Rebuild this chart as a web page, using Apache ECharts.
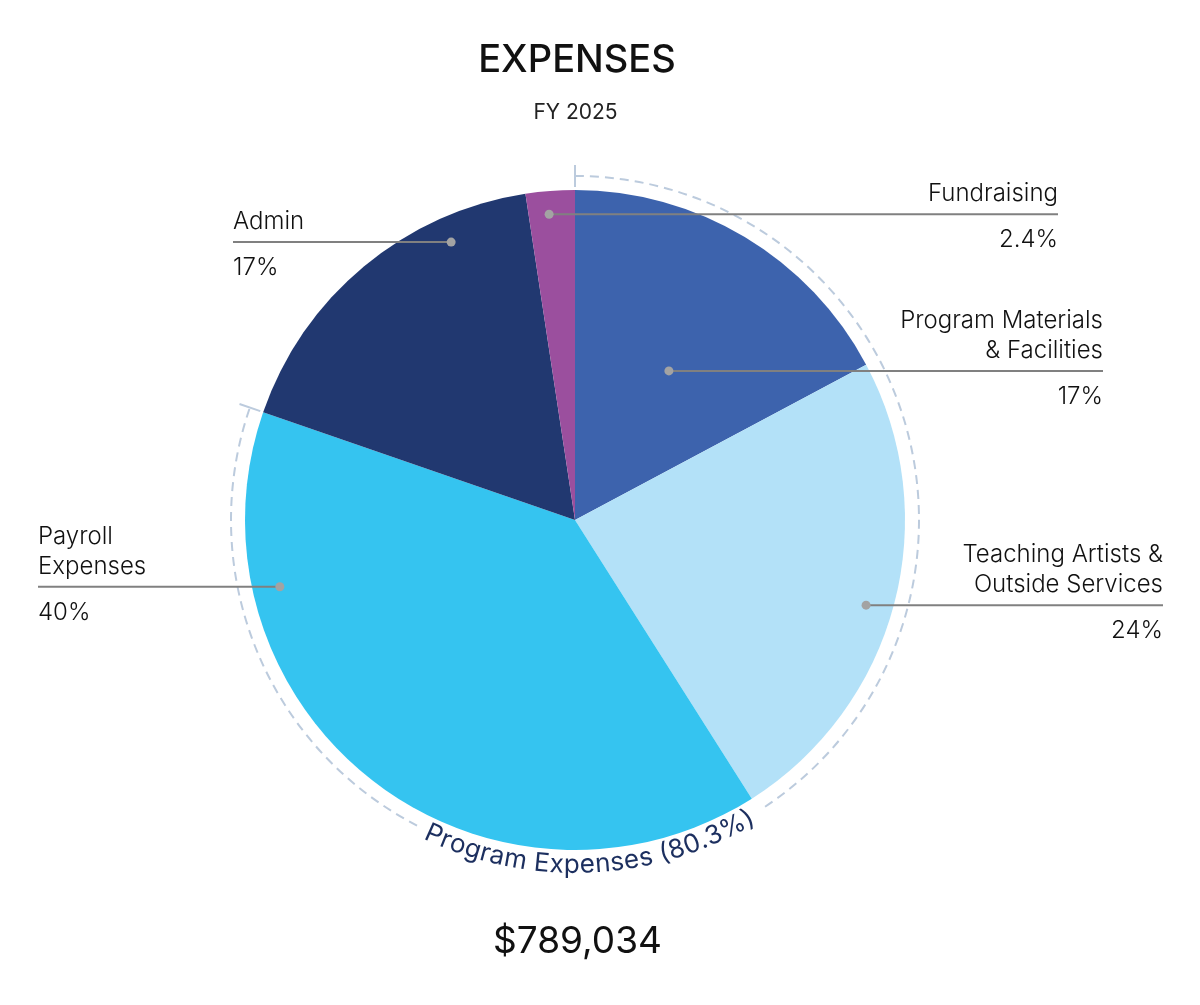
<!DOCTYPE html>
<html>
<head>
<meta charset="utf-8">
<script src="https://cdn.jsdelivr.net/npm/echarts@6/dist/echarts.min.js"></script>
<style>html,body{margin:0;padding:0;background:#fff}#chart{width:1200px;height:1005px}</style>
</head>
<body>
<div id="chart"></div>
<script>
// ---------------- data ----------------
const categories = ['Program Materials & Facilities', 'Teaching Artists & Outside Services', 'Payroll Expenses', 'Admin', 'Fundraising'];
const labelLines = [['Program Materials', '& Facilities'], ['Teaching Artists &', 'Outside Services'], ['Payroll', 'Expenses'], ['Admin'], ['Fundraising']];
const shares = [17.2, 23.8, 39.3, 17.3, 2.4];
const pctLabels = ['17%', '24%', '40%', '17%', '2.4%'];
const programCount = 3;
const programLabel = 'Program Expenses (80.3%)';
const titleText = 'EXPENSES';
const subtitleText = 'FY 2025';
const totalText = '$789,034';

// ---------------- style / layout ----------------
const colors = ['#3d63ad', '#b3e1f8', '#35c4f0', '#213870', '#9b4f9e'];
const CX = 575, CY = 520, R = 330;
const ARC_R = 344;
const LABEL_FONT = 'Inter';
const anchors = [
  { frac: 0.52, rf: 0.534, side: 'right', edge: 1103 },
  { frac: 0.518, rf: 0.919, side: 'right', edge: 1163 },
  { frac: 0.775, rf: 0.917, side: 'left', edge: 38 },
  { frac: 0.753, rf: 0.922, side: 'left', edge: 233 },
  { frac: 0.44, rf: 0.93, side: 'right', edge: 1058 }
];

const total = shares.reduce((a, b) => a + b, 0);
const startDeg = [];
let acc = 0;
shares.forEach(v => { startDeg.push(acc / total * 360); acc += v; });
const spanDeg = shares.map(v => v / total * 360);
const rad = d => d * Math.PI / 180;
const polar = (thetaDeg, r) => [CX + r * Math.sin(rad(thetaDeg)), CY - r * Math.cos(rad(thetaDeg))];

const dots = anchors.map((a, i) => {
  const th = startDeg[i] + a.frac * spanDeg[i];
  const p = polar(th, a.rf * R);
  return { x: p[0], y: p[1] };
});

function richFor(side) {
  const base = { fontFamily: LABEL_FONT, fontWeight: 300, fontSize: 24, color: '#111111', align: side };
  return { n: Object.assign({}, base, { lineHeight: 30 }), p: Object.assign({}, base, { lineHeight: 61 }) };
}

const pieData = categories.map((name, i) => ({
  name: name,
  value: shares[i],
  itemStyle: { color: colors[i] },
  label: { align: anchors[i].side, rich: richFor(anchors[i].side) }
}));

// --------- program bracket arc + curved text ---------
const programDeg = shares.slice(0, programCount).reduce((a, b) => a + b, 0) / total * 360;
const TEXT_FS = 26;
const TEXT_FONT = '400 ' + TEXT_FS + 'px ' + LABEL_FONT;
const measureCtx = document.createElement('canvas').getContext('2d');
measureCtx.font = TEXT_FONT;
const chars = programLabel.split('');
const widths = chars.map(c => measureCtx.measureText(c).width);
const textLen = widths.reduce((a, b) => a + b, 0);
const textSpanDeg = textLen / ARC_R * 180 / Math.PI;
const TEXT_CENTER = 177.3;
const textStart = TEXT_CENTER + textSpanDeg / 2;
const textEnd = TEXT_CENTER - textSpanDeg / 2;
const GAP = 1.8;

const graphics = [];
const dashStyle = { stroke: '#bccbdd', lineWidth: 2, lineDash: [9, 6], fill: null };
graphics.push({
  type: 'arc', z: 1, silent: true,
  shape: { cx: CX, cy: CY, r: ARC_R, startAngle: rad(0 - 90), endAngle: rad(textEnd - GAP - 90), clockwise: true },
  style: dashStyle
});
graphics.push({
  type: 'arc', z: 1, silent: true,
  shape: { cx: CX, cy: CY, r: ARC_R, startAngle: rad(textStart + GAP - 90), endAngle: rad(programDeg - 90), clockwise: true },
  style: dashStyle
});
[0, programDeg].forEach(th => {
  const a = polar(th, ARC_R - 11), b = polar(th, ARC_R + 11);
  graphics.push({ type: 'line', z: 1, silent: true, shape: { x1: a[0], y1: a[1], x2: b[0], y2: b[1] }, style: { stroke: '#bccbdd', lineWidth: 2 } });
});
let s = 0;
chars.forEach((c, i) => {
  const mid = s + widths[i] / 2;
  s += widths[i];
  const th = textStart - mid / ARC_R * 180 / Math.PI;
  const p = polar(th, ARC_R + 1);
  graphics.push({
    type: 'text', z: 5, silent: true, x: p[0], y: p[1], rotation: rad(180 - th),
    style: { text: c, font: TEXT_FONT, fill: '#1c2f5f', align: 'center', verticalAlign: 'middle' }
  });
});
// leader lines and anchor dots (drawn above the slices)
dots.forEach((d, i) => {
  graphics.push({ type: 'line', z: 90, silent: true, shape: { x1: d.x, y1: d.y, x2: anchors[i].edge, y2: d.y }, style: { stroke: '#808080', lineWidth: 2 } });
  graphics.push({ type: 'circle', z: 100, silent: true, shape: { cx: d.x, cy: d.y, r: 4.5 }, style: { fill: '#a3a3a3' } });
});

const chart = echarts.init(document.getElementById('chart'), null, { renderer: 'canvas' });
chart.setOption({
  animation: false,
  backgroundColor: '#ffffff',
  title: [
    { text: titleText, left: 572, top: 37, textAlign: 'center', textStyle: { fontFamily: 'Inter', fontWeight: 500, fontSize: 38, color: '#111' } },
    { text: subtitleText, left: 570.5, top: 97, textAlign: 'center', textStyle: { fontFamily: 'Inter', fontWeight: 400, fontSize: 21, color: '#222' } },
    { text: totalText, left: 572.5, top: 918, textAlign: 'center', textStyle: { fontFamily: 'Inter', fontWeight: 400, fontSize: 37, color: '#111' } }
  ],
  series: [{
    type: 'pie',
    center: [CX, CY],
    radius: [0, R],
    startAngle: 90,
    clockwise: true,
    avoidLabelOverlap: false,
    silent: true,
    data: pieData,
    itemStyle: { borderWidth: 0 },
    label: {
      show: true,
      position: 'outside',
      formatter: p => labelLines[p.dataIndex].map(l => '{n|' + l + '}').join('\n') + '\n{p|' + pctLabels[p.dataIndex] + '}',
      rich: richFor('right')
    },
    labelLine: { show: false },
    labelLayout: function (params) {
      const i = params.dataIndex;
      const a = anchors[i], d = dots[i];
      const n = labelLines[i].length;
      return { x: a.edge, y: d.y - 30 * n - 5, align: a.side, verticalAlign: 'top' };
    }
  }],
  graphic: { elements: graphics }
});
</script>
</body>
</html>
